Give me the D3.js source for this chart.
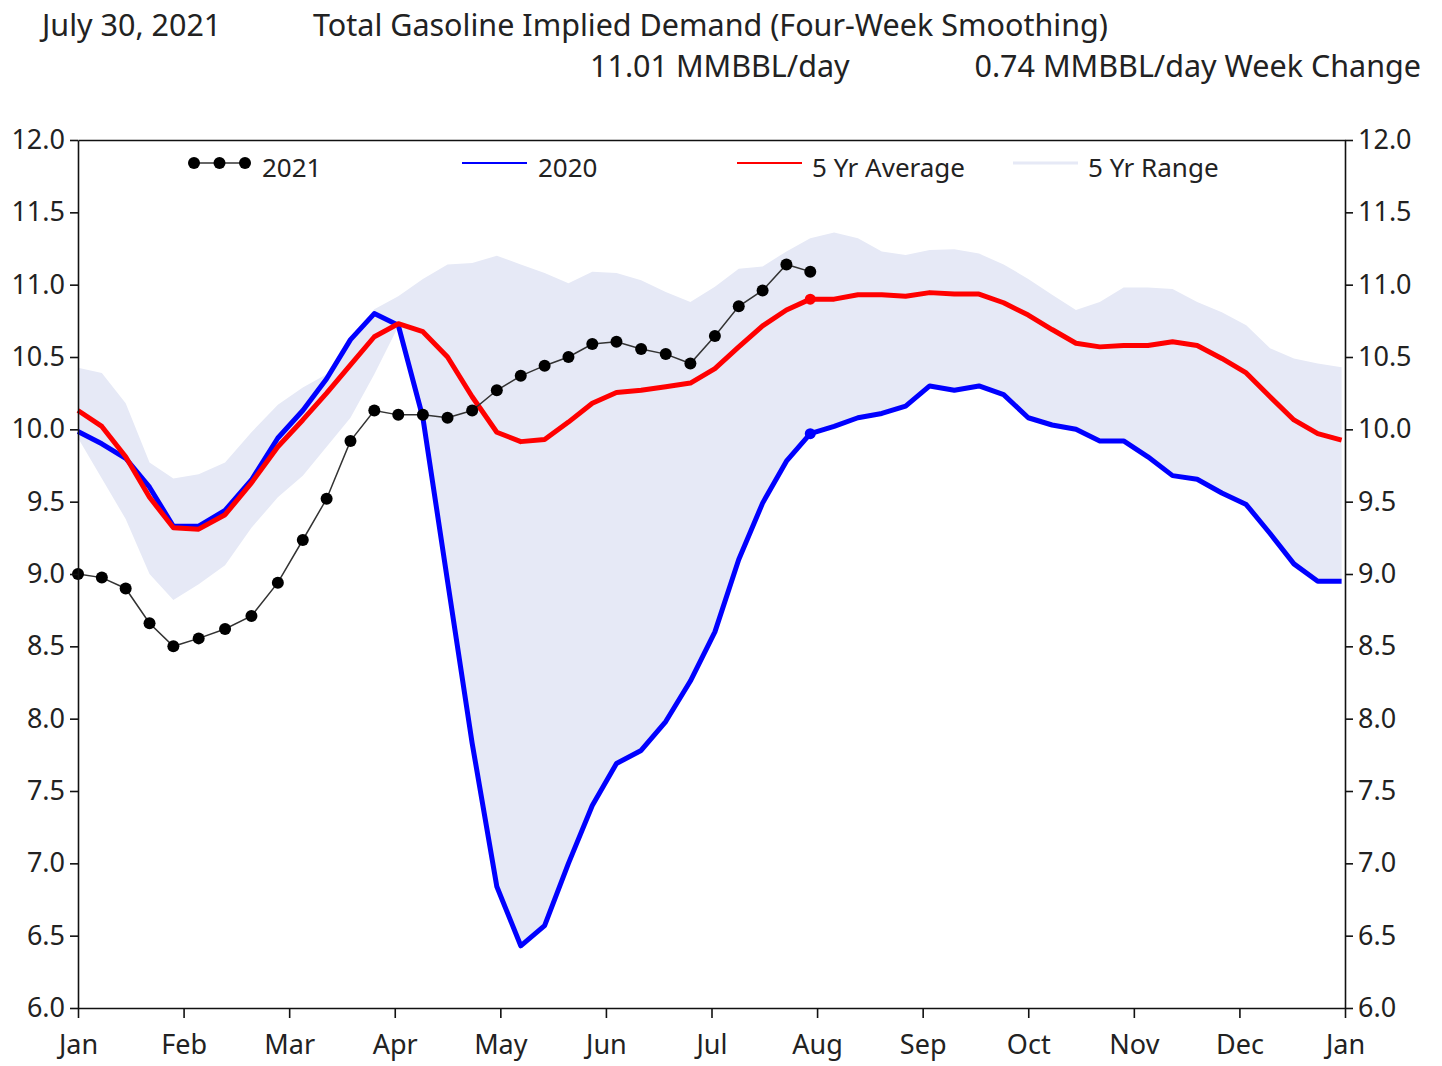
<!DOCTYPE html>
<html>
<head>
<meta charset="utf-8">
<script src="https://cdn.jsdelivr.net/npm/d3@7"></script>
<style>
  html, body { margin: 0; padding: 0; background: #fff; }
  svg { display: block; font-family: "Noto Sans", "Open Sans", sans-serif; }
</style>
</head>
<body>
<svg id="chart" width="1442" height="1066"></svg>
<script>
// ---------- DATA ----------
const titleDate = "July 30, 2021";
const titleText = "Total Gasoline Implied Demand (Four-Week Smoothing)";
const subValue = "11.01 MMBBL/day";
const subChange = "0.74 MMBBL/day Week Change";

const monthLabels = ["Jan","Feb","Mar","Apr","May","Jun","Jul","Aug","Sep","Oct","Nov","Dec","Jan"];
const yTicks = [6.0, 6.5, 7.0, 7.5, 8.0, 8.5, 9.0, 9.5, 10.0, 10.5, 11.0, 11.5, 12.0];
const legendLabels = ["2021", "2020", "5 Yr Average", "5 Yr Range"];

// weekly dates (week ending Fridays, 2021 calendar)
const weekDates = [
  "2021-01-01","2021-01-08","2021-01-15","2021-01-22","2021-01-29",
  "2021-02-05","2021-02-12","2021-02-19","2021-02-26",
  "2021-03-05","2021-03-12","2021-03-19","2021-03-26",
  "2021-04-02","2021-04-09","2021-04-16","2021-04-23","2021-04-30",
  "2021-05-07","2021-05-14","2021-05-21","2021-05-28",
  "2021-06-04","2021-06-11","2021-06-18","2021-06-25",
  "2021-07-02","2021-07-09","2021-07-16","2021-07-23","2021-07-30",
  "2021-08-06","2021-08-13","2021-08-20","2021-08-27",
  "2021-09-03","2021-09-10","2021-09-17","2021-09-24",
  "2021-10-01","2021-10-08","2021-10-15","2021-10-22","2021-10-29",
  "2021-11-05","2021-11-12","2021-11-19","2021-11-26",
  "2021-12-03","2021-12-10","2021-12-17","2021-12-24","2021-12-31"
];

const values2021 = [
  9.00, 8.975, 8.90, 8.66, 8.50, 8.555, 8.62, 8.71, 8.94, 9.235,
  9.52, 9.92, 10.13, 10.10, 10.10, 10.08, 10.13, 10.27, 10.37, 10.44,
  10.50, 10.59, 10.605, 10.555, 10.52, 10.455, 10.645, 10.85, 10.96, 11.14,
  11.09
];

const values2020 = [
  9.985, 9.90, 9.80, 9.60, 9.33, 9.33, 9.44, 9.65, 9.94, 10.13,
  10.35, 10.62, 10.80, 10.72, 10.08, 8.95, 7.83, 6.84, 6.43, 6.57,
  7.00, 7.40, 7.69, 7.78, 7.98, 8.26, 8.60, 9.10, 9.49, 9.78,
  9.97, 10.02, 10.08, 10.11, 10.16, 10.30, 10.27, 10.30, 10.24, 10.08,
  10.03, 10.00, 9.92, 9.92, 9.81, 9.68, 9.655, 9.56, 9.48, 9.28,
  9.07, 8.95, 8.95
];

const avg5yr = [
  10.13, 10.02, 9.81, 9.53, 9.32, 9.31, 9.41, 9.63, 9.88, 10.065,
  10.25, 10.445, 10.64, 10.73, 10.675, 10.50, 10.225, 9.98, 9.915, 9.93,
  10.05, 10.18, 10.255, 10.27, 10.295, 10.32, 10.42, 10.57, 10.715, 10.825,
  10.90, 10.90, 10.93, 10.93, 10.92, 10.945, 10.935, 10.935, 10.875, 10.79,
  10.69, 10.595, 10.57, 10.58, 10.58, 10.605, 10.58, 10.49, 10.39, 10.225,
  10.065, 9.97, 9.925
];

const rangeHigh = [
  10.425, 10.39, 10.18, 9.77, 9.66, 9.69, 9.77, 9.98, 10.17, 10.29,
  10.38, 10.64, 10.83, 10.92, 11.04, 11.14, 11.15, 11.20, 11.14, 11.08,
  11.01, 11.09, 11.08, 11.03, 10.95, 10.88, 10.985, 11.11, 11.125, 11.23,
  11.32, 11.36, 11.32, 11.23, 11.205, 11.24, 11.245, 11.215, 11.14, 11.04,
  10.93, 10.825, 10.88, 10.98, 10.98, 10.97, 10.88, 10.81, 10.72, 10.56,
  10.49, 10.455, 10.43
];

const rangeLow = [
  9.94, 9.66, 9.38, 9.00, 8.82, 8.93, 9.06, 9.32, 9.53, 9.68,
  9.88, 10.08, 10.38, 10.71, 10.08, 8.95, 7.83, 6.84, 6.43, 6.57,
  7.00, 7.40, 7.69, 7.78, 7.98, 8.26, 8.60, 9.10, 9.49, 9.78,
  9.97, 10.02, 10.08, 10.11, 10.16, 10.30, 10.27, 10.30, 10.24, 10.08,
  10.03, 10.00, 9.92, 9.92, 9.81, 9.68, 9.655, 9.56, 9.48, 9.28,
  9.07, 8.95, 8.95
];

const currentWeekIndex = values2021.length - 1;

// ---------- LAYOUT ----------
const svg = d3.select("#chart");
const plotLeft = 78, plotRight = 1345, plotTop = 140, plotBottom = 1008;

// month-position: month index + fraction of month elapsed
function monthPos(s) {
  const [yy, mm, dd] = s.split("-").map(Number);
  const dim = new Date(yy, mm, 0).getDate();
  return (mm - 1) + (dd - 1) / dim;
}

const x = d3.scaleLinear().domain([0, 12]).range([plotLeft, plotRight]);
const y = d3.scaleLinear().domain([6, 12]).range([plotBottom, plotTop]);

const pts = (arr) => arr.map((v, i) => ({ x: monthPos(weekDates[i]), v, lo: rangeLow[i], hi: rangeHigh[i] }));

// ---------- TITLES ----------
const tFont = 30.5;
svg.append("text").attr("x", 42).attr("y", 36).attr("font-size", tFont).attr("fill", "#222").text(titleDate);
svg.append("text").attr("x", 313).attr("y", 36).attr("font-size", tFont).attr("fill", "#222").text(titleText);
svg.append("text").attr("x", 590).attr("y", 77).attr("font-size", tFont).attr("fill", "#222").text(subValue);
svg.append("text").attr("x", 1421).attr("y", 77).attr("font-size", tFont).attr("fill", "#222")
  .attr("text-anchor", "end").text(subChange);

// ---------- BAND ----------
const bandData = pts(rangeHigh);
svg.append("path")
  .datum(bandData)
  .attr("fill", "#e6e9f6")
  .attr("d", d3.area().x(d => x(d.x)).y0(d => y(d.lo)).y1(d => y(d.hi)));

// ---------- LINES ----------
const line = d3.line().x(d => x(d.x)).y(d => y(d.v));

svg.append("path").datum(pts(values2020))
  .attr("fill", "none").attr("stroke", "#0000ff").attr("stroke-width", 5)
  .attr("stroke-linejoin", "round").attr("d", line);

svg.append("path").datum(pts(avg5yr))
  .attr("fill", "none").attr("stroke", "#ff0000").attr("stroke-width", 5)
  .attr("stroke-linejoin", "round").attr("d", line);

// current week markers
svg.append("circle").attr("cx", x(monthPos(weekDates[currentWeekIndex])))
  .attr("cy", y(values2020[currentWeekIndex])).attr("r", 5.5).attr("fill", "#0000ff");
svg.append("circle").attr("cx", x(monthPos(weekDates[currentWeekIndex])))
  .attr("cy", y(avg5yr[currentWeekIndex])).attr("r", 5.5).attr("fill", "#ff0000");

const d2021 = pts(values2021);
svg.append("path").datum(d2021)
  .attr("fill", "none").attr("stroke", "#333").attr("stroke-width", 1.5).attr("d", line);
svg.selectAll("circle.d21").data(d2021).enter().append("circle")
  .attr("class", "d21")
  .attr("cx", d => x(d.x)).attr("cy", d => y(d.v)).attr("r", 6).attr("fill", "#000");

// ---------- AXES ----------
const axisColor = "#111";
const fmt = d3.format(".1f");

const gL = svg.append("g").attr("transform", `translate(${plotLeft},0)`)
  .call(d3.axisLeft(y).tickValues(yTicks).tickFormat(fmt).tickSize(8).tickPadding(5).tickSizeOuter(0));
const gR = svg.append("g").attr("transform", `translate(${plotRight},0)`)
  .call(d3.axisRight(y).tickValues(yTicks).tickFormat(fmt).tickSize(8).tickPadding(5).tickSizeOuter(0));
const gB = svg.append("g").attr("transform", `translate(0,${plotBottom})`)
  .call(d3.axisBottom(x).tickValues(d3.range(13)).tickFormat((d, i) => monthLabels[i]).tickSize(10).tickPadding(17).tickSizeOuter(0));
const gT = svg.append("g").attr("transform", `translate(0,${plotTop})`)
  .call(d3.axisTop(x).tickValues([]).tickSizeOuter(0));

[gL, gR, gB, gT].forEach(g => {
  g.selectAll("path.domain").attr("stroke", axisColor).attr("stroke-width", 1.6);
  g.selectAll(".tick line").attr("stroke", axisColor).attr("stroke-width", 1.6);
  g.selectAll(".tick text").attr("font-size", 27).attr("fill", "#222")
    .attr("font-family", "'Noto Sans', 'Open Sans', sans-serif");
});

// ---------- LEGEND ----------
const legY = 163;
const legFont = 26;
const lg = svg.append("g");
// 2021
lg.append("line").attr("x1", 194).attr("x2", 245).attr("y1", legY).attr("y2", legY)
  .attr("stroke", "#333").attr("stroke-width", 1.5);
[194, 219.5, 245].forEach(cx => lg.append("circle").attr("cx", cx).attr("cy", legY).attr("r", 6).attr("fill", "#000"));
lg.append("text").attr("x", 262).attr("y", legY + 14).attr("font-size", legFont).attr("fill", "#222").text(legendLabels[0]);
// 2020
lg.append("line").attr("x1", 462).attr("x2", 527).attr("y1", legY).attr("y2", legY)
  .attr("stroke", "#0000ff").attr("stroke-width", 2);
lg.append("text").attr("x", 538).attr("y", legY + 14).attr("font-size", legFont).attr("fill", "#222").text(legendLabels[1]);
// 5 Yr Average
lg.append("line").attr("x1", 737).attr("x2", 802).attr("y1", legY).attr("y2", legY)
  .attr("stroke", "#ff0000").attr("stroke-width", 2);
lg.append("text").attr("x", 812).attr("y", legY + 14).attr("font-size", legFont).attr("fill", "#222").text(legendLabels[2]);
// 5 Yr Range
lg.append("line").attr("x1", 1013).attr("x2", 1078).attr("y1", legY).attr("y2", legY)
  .attr("stroke", "#e6e9f6").attr("stroke-width", 3);
lg.append("text").attr("x", 1088).attr("y", legY + 14).attr("font-size", legFont).attr("fill", "#222").text(legendLabels[3]);
</script>
</body>
</html>
